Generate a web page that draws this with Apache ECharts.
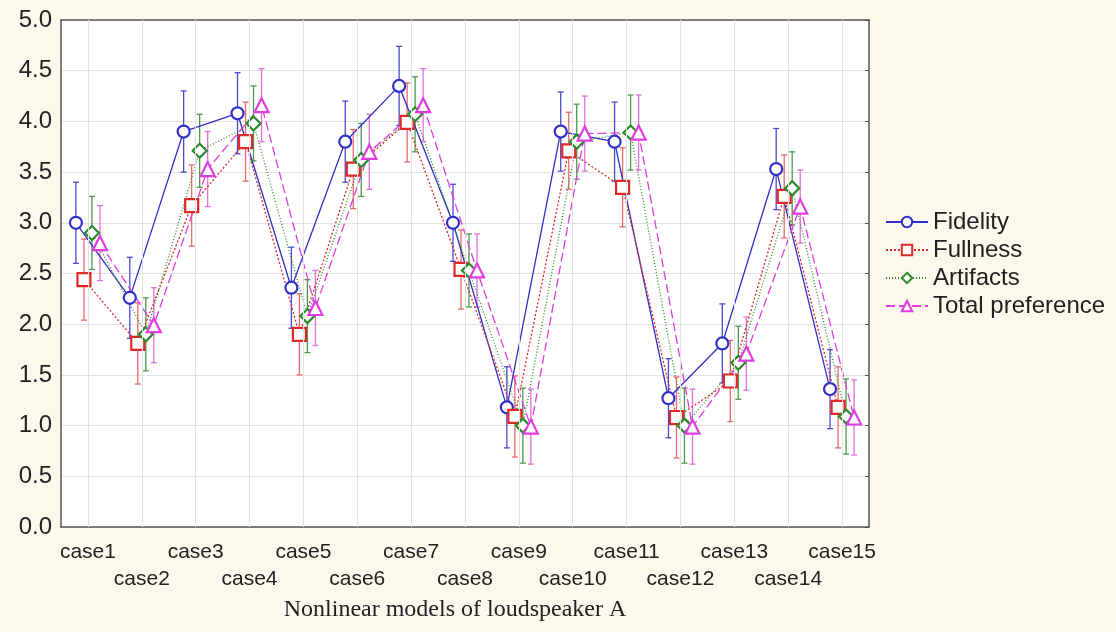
<!DOCTYPE html>
<html>
<head>
<meta charset="utf-8">
<script src="https://cdn.jsdelivr.net/npm/echarts@6/dist/echarts.min.js"></script>
<style>
  html, body {margin: 0; padding: 0; background: #fdf8ec;}
  #chart {width: 1116px; height: 632px;}
</style>
</head>
<body>
<div id="chart"></div>
<script>
const cases = ['case1', 'case2', 'case3', 'case4', 'case5', 'case6', 'case7', 'case8',
    'case9', 'case10', 'case11', 'case12', 'case13', 'case14', 'case15']
const yTicks = [0, 0.5, 1, 1.5, 2, 2.5, 3, 3.5, 4, 4.5, 5]

// means
const fidelity = [3.0, 2.26, 3.9, 4.08, 2.36, 3.8, 4.35, 3.0, 1.18, 3.9, 3.8, 1.27, 1.81, 3.53, 1.36]
const fullness = [2.44, 1.81, 3.17, 3.8, 1.9, 3.53, 3.99, 2.54, 1.09, 3.71, 3.35, 1.08, 1.44, 3.26, 1.18]
const artifacts = [2.9, 1.9, 3.71, 3.98, 2.08, 3.62, 4.07, 2.53, 1.0, 3.8, 3.89, 1.0, 1.62, 3.34, 1.09]
const totalPref = [2.8, 1.99, 3.53, 4.16, 2.16, 3.7, 4.16, 2.53, 0.99, 3.88, 3.89, 0.99, 1.71, 3.16, 1.08]

// half length of the error bars
const fidelityErr = [0.4, 0.4, 0.4, 0.4, 0.4, 0.4, 0.39, 0.38, 0.4, 0.39, 0.39, 0.39, 0.39, 0.4, 0.39]
const fullnessErr = [0.4, 0.4, 0.4, 0.39, 0.4, 0.39, 0.39, 0.39, 0.4, 0.38, 0.39, 0.4, 0.4, 0.41, 0.4]
const artifactsErr = [0.36, 0.36, 0.36, 0.37, 0.36, 0.36, 0.37, 0.36, 0.37, 0.37, 0.37, 0.37, 0.36, 0.36, 0.37]
const totalPrefErr = [0.37, 0.37, 0.37, 0.36, 0.37, 0.37, 0.36, 0.36, 0.37, 0.37, 0.37, 0.37, 0.36, 0.36, 0.37]

const seriesDefs = [
    {name: 'Fidelity', data: fidelity, err: fidelityErr, shift: -0.223, color: '#3030c8', errColor: '#4a4ad0',
        symbol: 'circle', size: 12, type: 'solid'},
    {name: 'Fullness', data: fullness, err: fullnessErr, shift: -0.074, color: '#e02828', errColor: '#e86a6a',
        symbol: 'rect', size: 13, type: [2, 2]},
    {name: 'Artifacts', data: artifacts, err: artifactsErr, shift: 0.074, color: '#2c8a2c', errColor: '#4c9a4c',
        symbol: 'diamond', size: 14, type: [1, 2]},
    {name: 'Total preference', data: totalPref, err: totalPrefErr, shift: 0.223, color: '#e03ce0', errColor: '#e070e0',
        symbol: 'triangle', size: 14, type: [9, 4]}
]

const chart = echarts.init(document.getElementById('chart'))
const font = 'Liberation Sans, Arial, sans-serif'

function errorBar(color) {
    return function (params, api) {
        const x = api.value(0)
        const lo = api.coord([x, api.value(1)])
        const hi = api.coord([x, api.value(2)])
        const w = 3
        const style = {stroke: color, lineWidth: 1.3, fill: null}
        return {
            type: 'group',
            children: [
                {type: 'line', shape: {x1: lo[0], y1: lo[1], x2: hi[0], y2: hi[1]}, style: style},
                {type: 'line', shape: {x1: lo[0] - w, y1: lo[1], x2: lo[0] + w, y2: lo[1]}, style: style},
                {type: 'line', shape: {x1: hi[0] - w, y1: hi[1], x2: hi[0] + w, y2: hi[1]}, style: style}
            ]
        }
    }
}

const series = []
seriesDefs.forEach((s, k) => {
    series.push({
        type: 'custom',
        name: s.name + ' err',
        xAxisIndex: 2,
        yAxisIndex: 0,
        z: 2,
        silent: true,
        renderItem: errorBar(s.errColor),
        data: s.data.map((v, i) => [i + s.shift, v - s.err[i], v + s.err[i]]),
        markLine: k === 0 ? {
            silent: true,
            symbol: 'none',
            label: {show: false},
            lineStyle: {color: '#e2e2e2', width: 1, type: 'solid'},
            data: cases.map((c, i) => ({xAxis: i}))
        } : undefined
    })
})
seriesDefs.forEach((s) => {
    series.push({
        type: 'line',
        name: s.name,
        xAxisIndex: 2,
        yAxisIndex: 0,
        z: 3,
        symbol: s.symbol,
        symbolSize: s.size,
        showAllSymbol: true,
        color: s.color,
        lineStyle: {color: s.color, width: 1.3, type: s.type},
        itemStyle: {color: '#ffffff', borderColor: s.color, borderWidth: 2.2},
        data: s.data.map((v, i) => [i + s.shift, v])
    })
})

const option = {
    backgroundColor: '#fdf8ec',
    animation: false,
    grid: {left: 61, right: 247, top: 20, bottom: 105, show: true, backgroundColor: '#ffffff', borderWidth: 0},
    legend: {
        orient: 'vertical',
        left: 880,
        top: 205,
        itemWidth: 42,
        itemHeight: 13,
        itemGap: 4,
        data: seriesDefs.map(s => s.name),
        textStyle: {fontFamily: font, fontSize: 24, lineHeight: 20, color: '#222'}
    },
    xAxis: [
        {
            type: 'category',
            data: cases,
            position: 'bottom',
            axisLine: {onZero: false, lineStyle: {color: '#555', width: 1.5}},
            axisTick: {inside: true, alignWithLabel: true, length: 4, lineStyle: {color: '#555'}},
            axisLabel: {
                fontFamily: font, fontSize: 21, color: '#222', margin: 12, lineHeight: 27,
                interval: 0,
                formatter: (v, i) => (i % 2 === 1 ? '\n' + v : v)
            },
            splitLine: {show: false},
            name: 'Nonlinear models of loudspeaker A',
            nameLocation: 'middle',
            nameGap: 70,
            nameTextStyle: {fontFamily: 'Liberation Serif, Times New Roman, serif', fontSize: 24, color: '#222', padding: [0, 20, 0, 0]}
        },
        {
            type: 'category',
            data: cases,
            position: 'top',
            axisLine: {onZero: false, lineStyle: {color: '#555', width: 1.5}},
            axisTick: {inside: true, alignWithLabel: true, length: 4, lineStyle: {color: '#555'}},
            axisLabel: {show: false},
            splitLine: {show: false}
        },
        {
            type: 'value',
            min: -0.5,
            max: 14.5,
            show: false
        }
    ],
    yAxis: [
        {
            type: 'value',
            min: yTicks[0],
            max: yTicks[yTicks.length - 1],
            interval: 0.5,
            axisLine: {show: true, onZero: false, lineStyle: {color: '#555', width: 1.5}},
            axisTick: {show: false},
            axisLabel: {fontFamily: font, fontSize: 24, color: '#222', margin: 9, formatter: v => v.toFixed(1)},
            splitLine: {show: true, lineStyle: {color: '#e2e2e2', width: 1}}
        },
        {
            type: 'value',
            position: 'right',
            min: yTicks[0],
            max: yTicks[yTicks.length - 1],
            interval: 0.5,
            axisLine: {show: true, onZero: false, lineStyle: {color: '#555', width: 1.5}},
            axisTick: {show: true, inside: true, length: 4, lineStyle: {color: '#555'}},
            axisLabel: {show: false},
            splitLine: {show: false}
        }
    ],
    series: series
}

chart.setOption(option)
</script>
</body>
</html>
